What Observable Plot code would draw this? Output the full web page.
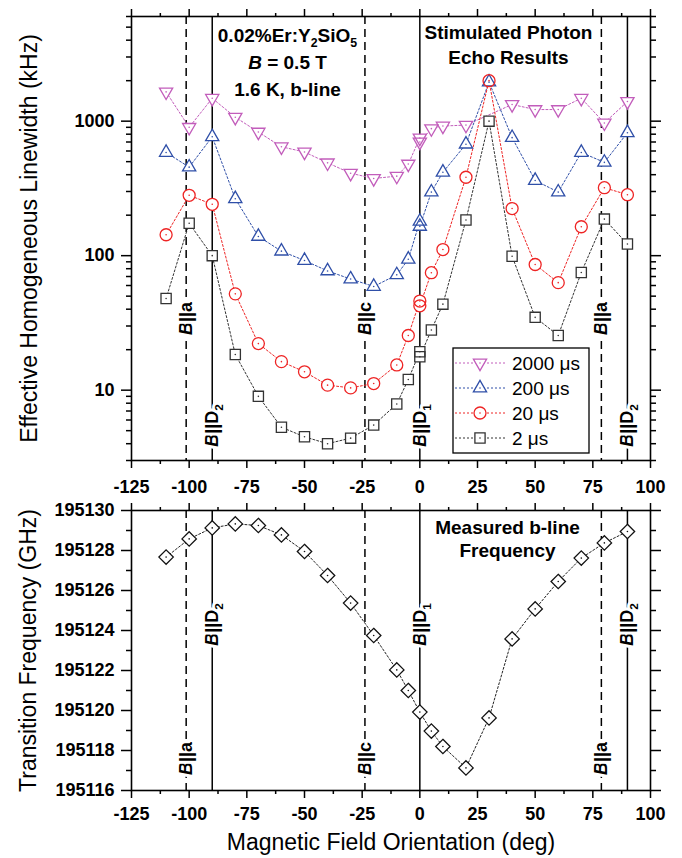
<!DOCTYPE html>
<html><head><meta charset="utf-8">
<script src="https://cdn.jsdelivr.net/npm/d3@7"></script>
<script src="https://cdn.jsdelivr.net/npm/@observablehq/plot@0.6"></script>
<style>
body{margin:0;background:#fff;}
#chart svg{display:block;}
</style></head><body><div id="chart"></div>
<script>
// ---------- data ----------
const angles = [-110,-100,-90,-80,-70,-60,-50,-40,-30,-20,-10,-5,0,0,5,10,20,30,40,50,60,70,80,90];
const seriesNames = ["2000 μs","200 μs","20 μs","2 μs"];
const lw2000 = [1650,900,1480,1070,830,645,590,490,410,375,390,480,750,700,880,920,935,null,1330,1220,1220,1480,970,1400];
const lw200  = [585,455,765,265,139,108,92,77,67,59,72,94,180,165,297,417,674,1950,754,362,297,585,494,820];
const lw20   = [143,281,241,52,22.2,16.3,13.7,10.9,10.4,11.2,15.4,25.5,46,42.4,74.7,111,383,2000,224,86,63,164,320,284];
const lw2    = [48,174,100,18.4,9.0,5.3,4.5,4.0,4.4,5.5,7.9,12,19.3,17.7,28,43.6,184,1000,99,34.8,25.5,75,187,122];

const freqAngles = [-110,-100,-90,-80,-70,-60,-50,-40,-30,-20,-10,-5,0,5,10,20,30,40,50,60,70,80,90];
const freqGHz = [195127.67,195128.58,195129.13,195129.33,195129.25,195128.78,195127.95,195126.75,195125.37,195123.75,195122.03,195121.0,195119.92,195118.97,195118.2,195117.13,195119.63,195123.58,195125.08,195126.45,195127.62,195128.38,195128.95];

const refAngles = [-101.3,-90,-23.8,0,78.7,90];
const refLabels = ["*B*||a","*B*||D_2","*B*||c","*B*||D_1","*B*||a","*B*||D_2"];
const refKinds  = ["dashed","solid","dashed","solid","dashed","solid"];

const xTicks = [-125,-100,-75,-50,-25,0,25,50,75,100];
const yTicksTop = [10,100,1000];
const yTicksBottom = [195116,195118,195120,195122,195124,195126,195128,195130];

const colors = ["#c25dbb","#2f4fa8","#ee2424","#333333"];

// ---------- symbols ----------
const symTriDown = {draw(ctx,size){const r=Math.sqrt(size/Math.PI);const a=r*1.1,h=a*Math.sqrt(3);ctx.moveTo(-a,-h/3);ctx.lineTo(a,-h/3);ctx.lineTo(0,2*h/3);ctx.closePath();}};
const symTriUp = {draw(ctx,size){const r=Math.sqrt(size/Math.PI);const a=r*1.1,h=a*Math.sqrt(3);ctx.moveTo(0,-2*h/3);ctx.lineTo(a,h/3);ctx.lineTo(-a,h/3);ctx.closePath();}};
const symCircle = d3.symbolCircle;
const symSquare = {draw(ctx,size){const r=Math.sqrt(size/Math.PI);const s=r*0.85;ctx.moveTo(-s,-s);ctx.lineTo(s,-s);ctx.lineTo(s,s);ctx.lineTo(-s,s);ctx.closePath();}};
const symDiamond = {draw(ctx,size){const r=Math.sqrt(size/Math.PI);const d=r*1.2;ctx.moveTo(0,-d);ctx.lineTo(d,0);ctx.lineTo(0,d);ctx.lineTo(-d,0);ctx.closePath();}};
const symbols = [symTriDown,symTriUp,symCircle,symSquare];

const FONT = "'Liberation Sans', Arial, Helvetica, sans-serif";
const refs = refAngles.map((a,i)=>({angle:a,label:refLabels[i],kind:refKinds[i]}));
const seriesVals = [lw2000,lw200,lw20,lw2];
const seriesRows = seriesVals.map(arr => angles.map((a,i)=>({a, v:arr[i]})).filter(d=>d.v!=null));
const C = {textAnchor:"middle", lineAnchor:"middle"};

function axesMarks(yMajor, yMinor, yFmt, xPad) {
  const xMinor = d3.range(-112.5, 100, 25);
  return [
    Plot.frame({stroke:"black", strokeWidth:1.6}),
    Plot.axisX({ticks:xTicks, tickSize:8, tickPadding:xPad, tickFormat:d=>String(d), label:null, fontSize:18, fontWeight:"bold", strokeWidth:1.5}),
    Plot.axisX({ticks:xMinor, tickSize:4, tickFormat:()=>"", label:null, strokeWidth:1.5}),
    Plot.axisX({anchor:"top", ticks:xTicks, tickSize:8, tickFormat:()=>"", label:null, strokeWidth:1.5}),
    Plot.axisX({anchor:"top", ticks:xMinor, tickSize:4, tickFormat:()=>"", label:null, strokeWidth:1.5}),
    Plot.axisY({ticks:yMajor, tickSize:10, tickPadding:7, tickFormat:yFmt, label:null, fontSize:18, fontWeight:"bold", strokeWidth:1.5}),
    Plot.axisY({ticks:yMinor, tickSize:5, tickFormat:()=>"", label:null, strokeWidth:1.5}),
    Plot.axisY({anchor:"right", ticks:yMajor, tickSize:10, tickFormat:()=>"", label:null, strokeWidth:1.5}),
    Plot.axisY({anchor:"right", ticks:yMinor, tickSize:5, tickFormat:()=>"", label:null, strokeWidth:1.5})
  ];
}

function refMarks(dyD, dyA) {
  const halo = {stroke:"white", strokeWidth:6, fill:"black", fontSize:18, fontWeight:"bold", rotate:-90, frameAnchor:"bottom", ...C};
  return [
    Plot.ruleX(refs.filter(d=>d.kind==="dashed"), {x:"angle", stroke:"black", strokeWidth:1.5, strokeDasharray:"8,5"}),
    Plot.ruleX(refs.filter(d=>d.kind==="solid"), {x:"angle", stroke:"black", strokeWidth:1.5}),
    Plot.text(refs.filter(d=>d.kind==="solid"), {x:"angle", text:"label", dy:dyD, ...halo}),
    Plot.text(refs.filter(d=>d.kind==="dashed"), {x:"angle", text:"label", dy:dyA, ...halo})
  ];
}

// minor ticks for log axis
const yMinorTop = [];
for (const dec of [1,10,100,1000]) for (let k=2;k<=9;k++){const v=k*dec; if(v>=3 && v<=6000) yMinorTop.push(v);}

// ---------- top plot ----------
const topMarks = [
  ...refMarks(-35, -142),
  ...seriesRows.map((rows,i)=>Plot.line(rows,{x:"a",y:"v",stroke:colors[i],strokeWidth:1,strokeDasharray:"2,2"})),
  ...seriesRows.map((rows,i)=>Plot.dot(rows,{x:"a",y:"v",symbol:symbols[i],r:6,fill:"white",stroke:null})),
  ...seriesRows.map((rows,i)=>Plot.dot(rows,{x:"a",y:"v",symbol:symbols[i],r:6,fill:"none",stroke:colors[i],strokeWidth:1.3})),
  ...seriesRows.map((rows,i)=>Plot.dot(rows,{x:"a",y:"v",r:0.8,fill:colors[i],stroke:null})),
  Plot.text(["0.02%Er:Y_2SiO_5"], {frameAnchor:"top-left", dx:156, dy:19, fontSize:19, fontWeight:"bold", ...C}),
  Plot.text(["*B* = 0.5 T"], {frameAnchor:"top-left", dx:156, dy:46, fontSize:19, fontWeight:"bold", ...C}),
  Plot.text(["1.6 K, b-line"], {frameAnchor:"top-left", dx:156, dy:73, fontSize:19, fontWeight:"bold", ...C}),
  Plot.text(["Stimulated Photon"], {frameAnchor:"top-left", dx:377, dy:16, fontSize:19, fontWeight:"bold", ...C}),
  Plot.text(["Echo Results"], {frameAnchor:"top-left", dx:377, dy:41, fontSize:19, fontWeight:"bold", ...C}),
  Plot.text(["Effective Homogeneous Linewidth (kHz)"], {frameAnchor:"left", dx:-102, rotate:-90, fontSize:23, ...C}),
  ...axesMarks(yTicksTop, yMinorTop, d=>String(d), 12)
];

const topPlot = Plot.plot({
  width:682, height:500, marginLeft:131, marginRight:32, marginTop:16, marginBottom:40,
  x:{domain:[-125,100]},
  y:{type:"log", domain:[3,6000]},
  style:{fontFamily:FONT, color:"black", background:"white", overflow:"visible"},
  marks: topMarks
});

// ---------- bottom plot ----------
const freqRows = freqAngles.map((a,i)=>({a, v:freqGHz[i]}));
const yMinorBottom = d3.range(195117, 195130, 2);
const bottomPlot = Plot.plot({
  width:682, height:358, marginLeft:131, marginRight:32, marginTop:10, marginBottom:68,
  x:{domain:[-125,100]},
  y:{domain:[195116,195130]},
  style:{fontFamily:FONT, color:"black", background:"white", overflow:"visible"},
  marks:[
    ...refMarks(-166, -32),
    Plot.line(freqRows,{x:"a",y:"v",stroke:"#222",strokeWidth:1,strokeDasharray:"2,2"}),
    Plot.dot(freqRows,{x:"a",y:"v",symbol:symDiamond,r:6,fill:"white",stroke:null}),
    Plot.dot(freqRows,{x:"a",y:"v",symbol:symDiamond,r:6,fill:"none",stroke:"#111",strokeWidth:1.3}),
    Plot.dot(freqRows,{x:"a",y:"v",r:0.8,fill:"#111",stroke:null}),
    Plot.text(["Measured b-line"], {frameAnchor:"top-left", dx:376, dy:17, fontSize:19, fontWeight:"bold", ...C}),
    Plot.text(["Frequency"], {frameAnchor:"top-left", dx:376, dy:40, fontSize:19, fontWeight:"bold", ...C}),
    Plot.text(["Transition Frequency (GHz)"], {frameAnchor:"left", dx:-103, rotate:-90, fontSize:23, ...C}),
    Plot.text(["Magnetic Field Orientation (deg)"], {frameAnchor:"bottom", dy:52, fontSize:23, ...C}),
    ...axesMarks(yTicksBottom, yMinorBottom, d=>String(d), 9)
  ]
});

// ---------- rich text (italic *x*, subscript _x) ----------
const NS = "http://www.w3.org/2000/svg";
function richify(svg){
  d3.select(svg).selectAll("text").each(function(){
    const t = this.textContent;
    if (!/[*_]/.test(t) || this.querySelector("tspan")) return;
    const fs = parseFloat(this.closest("[font-size]")?.getAttribute("font-size")) || 18;
    const shift = fs*0.28;
    this.textContent = "";
    let italic=false, buf="", pending=0;
    const el = this;
    const flush = () => {
      if (!buf) return;
      const ts = document.createElementNS(NS,"tspan");
      if (italic) ts.setAttribute("font-style","italic");
      if (pending) { ts.setAttribute("dy", String(-pending)); pending=0; }
      ts.textContent = buf; el.appendChild(ts); buf="";
    };
    for (let i=0;i<t.length;i++){
      const c=t[i];
      if (c==="*"){ flush(); italic=!italic; continue; }
      if (c==="_"){ flush(); const ts=document.createElementNS(NS,"tspan");
        ts.setAttribute("font-size", String(fs*0.65)); ts.setAttribute("dy", String(shift - pending)); pending = shift;
        ts.textContent=t[++i]; el.appendChild(ts); continue; }
      buf+=c;
    }
    flush();
  });
}
richify(topPlot); richify(bottomPlot);

// ---------- legend (inside top panel) ----------
const lg = d3.select(topPlot).append("g").attr("font-family", FONT).attr("text-anchor","start");
lg.append("rect").attr("x",453).attr("y",348).attr("width",136).attr("height",105)
  .attr("fill","white").attr("stroke","black").attr("stroke-width",1.3);
seriesNames.forEach((name,i)=>{
  const cy = 363 + 25*i;
  lg.append("line").attr("x1",455).attr("x2",506).attr("y1",cy).attr("y2",cy)
    .attr("stroke",colors[i]).attr("stroke-width",1).attr("stroke-dasharray","2,2");
  lg.append("path").attr("d", d3.symbol(symbols[i], Math.PI*36)()).attr("transform",`translate(480,${cy})`)
    .attr("fill","white").attr("stroke",colors[i]).attr("stroke-width",1.3);
  lg.append("circle").attr("cx",480).attr("cy",cy).attr("r",0.8).attr("fill",colors[i]);
  lg.append("text").attr("x",512).attr("y",cy).attr("dy","0.35em").attr("font-size",19)
    .attr("text-anchor","start").attr("fill","black").text(name);
});

document.getElementById("chart").append(topPlot, bottomPlot);
</script>
</body></html>
